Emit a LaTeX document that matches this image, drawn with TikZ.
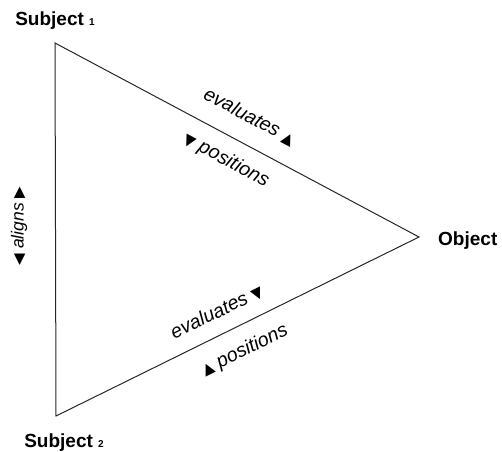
\documentclass[tikz,border=0pt]{standalone}
\usepackage{fontspec}
\setmainfont{Liberation Sans}
\newfontfamily\symfont{DejaVu Sans}
\usetikzlibrary{positioning}
\newcommand{\triup}{{\symfont\fontsize{15}{15}\selectfont ▲}}
\newcommand{\tridown}{{\symfont\fontsize{15}{15}\selectfont ▼}}
\newcommand{\trileft}{{\symfont\fontsize{15}{15}\selectfont ◀}}
\newcommand{\triright}{{\symfont\fontsize{15}{15}\selectfont ▶}}
\newcommand{\subnum}[1]{{\fontsize{10}{10}\selectfont #1}}
\tikzset{
  corner/.style={font=\bfseries\fontsize{19}{22}\selectfont, inner sep=0pt},
  edgelbl/.style={font=\itshape\fontsize{19.5}{22}\selectfont, inner sep=0pt},
  side/.style={line width=1pt, draw=black!85, line join=miter}
}

\begin{document}
\begin{tikzpicture}[x=1pt,y=-1pt]
   \useasboundingbox (0,0) rectangle (502,451);

   \coordinate (s1) at (55,43);
   \coordinate (obj) at (419,237);
   \coordinate (s2) at (56,416);
   \draw[side] (s1) -- (obj) -- (s2) -- cycle;

   \node[corner, above=13pt of s1] (subj1) {Subject \subnum{1}};
   \node[corner, below=18pt of s2, xshift=8pt] (subj2) {Subject \subnum{2}};
   \node[corner, right=19pt of obj, yshift=-3.5pt] (object) {Object};

   \path (s1) -- (obj)
   node[edgelbl, sloped, pos=0.5, above=18.5pt] (eval1) {evaluates \triup}
   node[edgelbl, sloped, pos=0.5, below=14pt] (posn1) {\tridown{} positions};
   \path (s2) -- (obj)
   node[edgelbl, sloped, pos=0.47, above=14pt] (eval2) {evaluates \tridown}
   node[edgelbl, sloped, pos=0.49, below=15.5pt] (posn2) {\triup{} positions};
   \node[edgelbl, font=\itshape\fontsize{17.5}{20}\selectfont, rotate=90] (align) at (19,226) {\trileft{} aligns \triright};

\end{tikzpicture}
\end{document}
